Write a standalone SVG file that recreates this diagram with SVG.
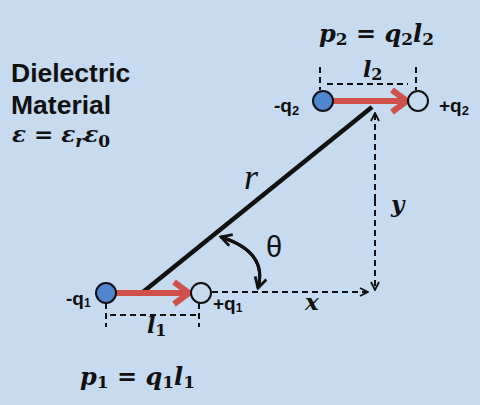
<svg xmlns="http://www.w3.org/2000/svg" width="480" height="405" viewBox="0 0 480 405">
<defs>
<style>
.lbl{font-family:"Liberation Sans",Arial,sans-serif;font-weight:bold;fill:#111}
.math{font-family:"DejaVu Serif","Liberation Serif",serif;font-weight:bold;font-style:italic;fill:#111}
.up{font-style:normal}
.dash{stroke:#111;stroke-width:2;stroke-dasharray:6,4;fill:none}
.neg{fill:#4F86D0;stroke:#111;stroke-width:2}
.pos{fill:#C6DAF0;stroke:#111;stroke-width:2}
.dip{stroke:#D0504A;stroke-width:6;fill:none;stroke-linecap:butt}
</style>
<marker id="chev" viewBox="0 0 10 10" refX="9" refY="5" markerWidth="10" markerHeight="10" markerUnits="userSpaceOnUse" orient="auto">
<polyline points="1,1 9,5 1,9" fill="none" stroke="#111" stroke-width="1.8"/>
</marker>
<marker id="chevB" viewBox="0 0 12 12" refX="10" refY="6" markerWidth="14" markerHeight="14" markerUnits="userSpaceOnUse" orient="auto">
<polyline points="1,1 10,6 1,11" fill="none" stroke="#111" stroke-width="2.4"/>
</marker>
</defs>
<rect width="480" height="405" fill="#C6DAF0"/>

<g id="material-label">
<text class="lbl" x="11" y="82" font-size="26.5">Dielectric</text>
<text class="lbl" x="11" y="114" font-size="26.5">Material</text>
<text class="math" x="12" y="142" font-size="23">ε <tspan class="up">=</tspan> ε<tspan font-size="17" dy="5">r</tspan><tspan dy="-5">ε</tspan><tspan class="up" font-size="17" dy="5">0</tspan></text>
</g>

<g id="connectors">
<line x1="143" y1="292" x2="372" y2="107" stroke="#111" stroke-width="4.5"/>
<line class="dash" x1="212" y1="292" x2="368" y2="292" marker-end="url(#chev)"/>
<line class="dash" x1="375" y1="200" x2="375" y2="113" marker-end="url(#chev)"/>
<line class="dash" x1="375" y1="200" x2="375" y2="290" marker-end="url(#chev)"/>
<path d="M258,288 Q268,252 221,237" fill="none" stroke="#111" stroke-width="3" marker-end="url(#chevB)"/>
<path d="M221,237 Q268,252 258,288" fill="none" stroke="#111" stroke-width="3" marker-end="url(#chevB)"/>
</g>

<g id="dipole1">
<line class="dash" x1="106" y1="303" x2="106" y2="327"/>
<line class="dash" x1="199" y1="303" x2="199" y2="327"/>
<line class="dash" x1="110" y1="315" x2="196" y2="315"/>
<line class="dip" x1="116" y1="293" x2="188" y2="293"/>
<polyline class="dip" points="174,282 189,293 174,304"/>
<circle class="neg" cx="106" cy="293" r="10"/>
<circle class="pos" cx="201" cy="293" r="10"/>
<text class="lbl" x="66" y="305" font-size="19">-q<tspan font-size="12" dy="2">1</tspan></text>
<text class="lbl" x="213" y="310" font-size="19">+q<tspan font-size="12" dy="2">1</tspan></text>
<text class="math" x="147" y="333" font-size="22">l<tspan class="up" font-size="16" dy="3">1</tspan></text>
<text class="math" x="80" y="385" font-size="24">p<tspan class="up" font-size="17" dy="3">1</tspan><tspan class="up" dy="-3"> = </tspan>q<tspan class="up" font-size="17" dy="3">1</tspan><tspan dy="-3">l</tspan><tspan class="up" font-size="17" dy="3">1</tspan></text>
</g>

<g id="dipole2">
<line class="dash" x1="320" y1="67" x2="320" y2="90"/>
<line class="dash" x1="416" y1="67" x2="416" y2="90"/>
<line class="dash" x1="327" y1="84" x2="408" y2="84"/>
<line class="dip" x1="333" y1="101" x2="406" y2="101"/>
<polyline class="dip" points="392,90 407,101 392,112"/>
<circle class="neg" cx="323" cy="101" r="10"/>
<circle class="pos" cx="418" cy="101" r="10"/>
<text class="lbl" x="274" y="112" font-size="19">-q<tspan font-size="13" dy="3">2</tspan></text>
<text class="lbl" x="439" y="112" font-size="19">+q<tspan font-size="13" dy="3">2</tspan></text>
<text class="math" x="363" y="77" font-size="22">l<tspan class="up" font-size="16" dy="3">2</tspan></text>
<text class="math" x="319" y="42" font-size="24">p<tspan class="up" font-size="17" dy="3">2</tspan><tspan class="up" dy="-3"> = </tspan>q<tspan class="up" font-size="17" dy="3">2</tspan><tspan dy="-3">l</tspan><tspan class="up" font-size="17" dy="3">2</tspan></text>
</g>

<g id="geometry-labels">
<text x="244" y="189" font-family="'Liberation Serif',serif" font-style="italic" font-size="36" fill="#111">r</text>
<text x="266" y="257" font-family="'Liberation Sans',Arial,sans-serif" font-size="29" fill="#111">θ</text>
<text class="math" x="305" y="310" font-size="23">x</text>
<text class="math" x="391" y="212" font-size="23">y</text>
</g>
</svg>
